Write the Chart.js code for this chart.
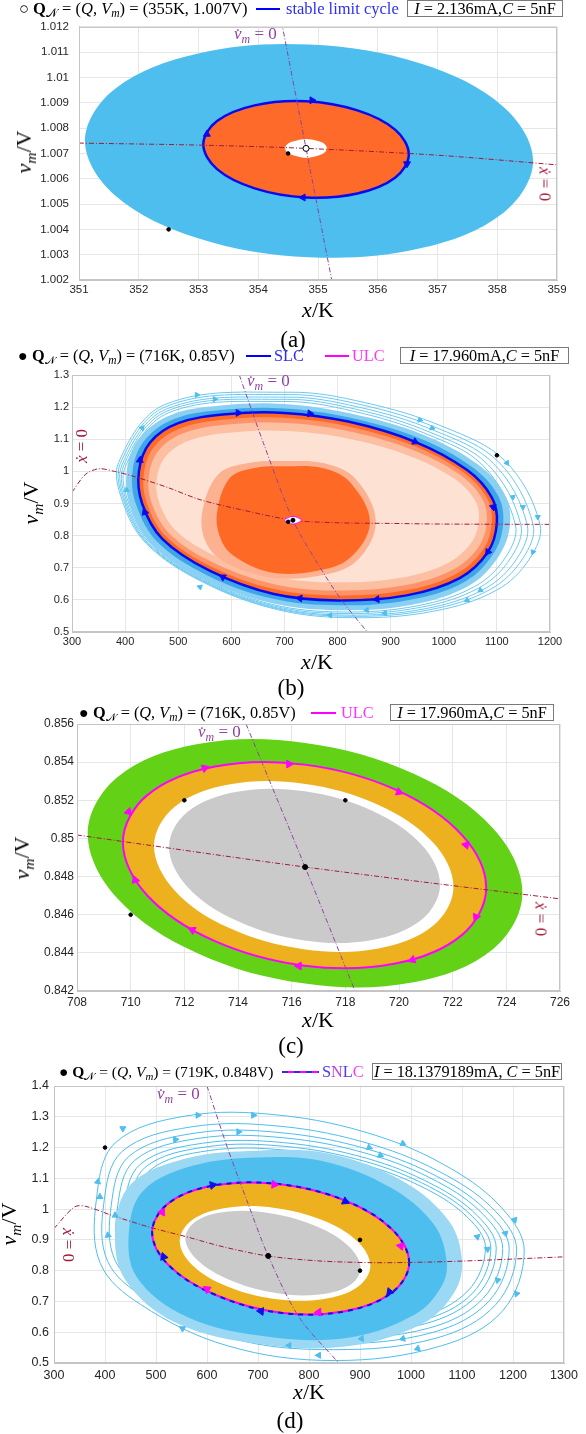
<!DOCTYPE html>
<html><head><meta charset="utf-8">
<script src="https://cdn.jsdelivr.net/npm/chart.js@4/dist/chart.umd.min.js"></script>
<style>
body{margin:0;width:586px;height:1434px;background:#fff;position:relative;overflow:hidden;font-family:"Liberation Serif","DejaVu Serif",serif;color:#000;}
canvas{position:absolute;left:0;}
.t{position:absolute;white-space:nowrap;line-height:1;}
.c{transform:translate(-50%,-50%);}
sub{font-size:0.7em;vertical-align:-0.3em;line-height:0;}
.leg{font-size:16.3px;line-height:17px;}
.box{border:1px solid #7a7a7a;height:17px;line-height:15px;box-sizing:border-box;text-align:center;background:#fff;}
.ln{position:absolute;height:2px;}
.ttl{font-size:22px;}
.pl{font-size:23px;}
.nl{font-size:17px;}
</style></head><body>
<canvas id="ca"></canvas><canvas id="cb"></canvas><canvas id="cc"></canvas><canvas id="cd"></canvas>

<!-- panel (a) texts -->
<div class="t leg" style="left:19px;top:0px;font-size:16.5px">○ <b>Q</b><sub>𝒩</sub> = (<i>Q</i>, <i>V</i><sub><i>m</i></sub>) = (355K, 1.007V)</div>
<div class="ln" style="left:256px;top:8px;width:24px;background:#0000ff"></div>
<div class="t leg" style="left:286px;top:0px;color:#2e2ef0;font-size:16.5px">stable limit cycle</div>
<div class="t leg box" style="left:407px;top:0px;width:156px"><i>I</i> = 2.136mA,<i>C</i> = 5nF</div>
<div class="t nl" style="left:234px;top:25px;color:#8e44a0"><i>v̇</i><sub><i>m</i></sub> = 0</div>
<div class="t nl c" style="left:545px;top:184px;color:#a31a3a;transform:translate(-50%,-50%) rotate(90deg)"><i>ẋ</i> = 0</div>
<div class="t ttl c" style="left:24px;top:152px;transform:translate(-50%,-50%) rotate(-90deg)"><i>v</i><sub><i>m</i></sub>/V</div>
<div class="t ttl c" style="left:318px;top:310px"><i>x</i>/K</div>
<div class="t pl c" style="left:293px;top:339px">(a)</div>

<!-- panel (b) texts -->
<div class="t leg" style="left:18px;top:347px">● <b>Q</b><sub>𝒩</sub> = (<i>Q</i>, <i>V</i><sub><i>m</i></sub>) = (716K, 0.85V)</div>
<div class="ln" style="left:246px;top:355px;width:25px;background:#0000ff"></div>
<div class="t leg" style="left:274px;top:347px;color:#2e2ef0">SLC</div>
<div class="ln" style="left:325px;top:355px;width:24px;background:#ff00ff"></div>
<div class="t leg" style="left:352px;top:347px;color:#ff33ff">ULC</div>
<div class="t leg box" style="left:400px;top:347px;width:169px"><i>I</i> = 17.960mA,<i>C</i> = 5nF</div>
<div class="t nl" style="left:247px;top:372px;color:#8e44a0"><i>v̇</i><sub><i>m</i></sub> = 0</div>
<div class="t nl c" style="left:81px;top:446px;color:#a31a3a;transform:translate(-50%,-50%) rotate(-90deg)"><i>ẋ</i> = 0</div>
<div class="t ttl c" style="left:31px;top:503px;transform:translate(-50%,-50%) rotate(-90deg)"><i>v</i><sub><i>m</i></sub>/V</div>
<div class="t ttl c" style="left:317px;top:662px"><i>x</i>/K</div>
<div class="t pl c" style="left:291px;top:687px">(b)</div>

<!-- panel (c) texts -->
<div class="t leg" style="left:79px;top:704px">● <b>Q</b><sub>𝒩</sub> = (<i>Q</i>, <i>V</i><sub><i>m</i></sub>) = (716K, 0.85V)</div>
<div class="ln" style="left:311px;top:712px;width:25px;background:#ff00ff"></div>
<div class="t leg" style="left:341px;top:704px;color:#ff33ff">ULC</div>
<div class="t leg box" style="left:390px;top:704px;width:164px"><i>I</i> = 17.960mA,<i>C</i> = 5nF</div>
<div class="t nl" style="left:198px;top:723px;color:#8e44a0"><i>v̇</i><sub><i>m</i></sub> = 0</div>
<div class="t nl c" style="left:541px;top:919px;color:#a31a3a;transform:translate(-50%,-50%) rotate(90deg)"><i>ẋ</i> = 0</div>
<div class="t ttl c" style="left:22px;top:858px;transform:translate(-50%,-50%) rotate(-90deg)"><i>v</i><sub><i>m</i></sub>/V</div>
<div class="t ttl c" style="left:318px;top:1020px"><i>x</i>/K</div>
<div class="t pl c" style="left:291px;top:1045px">(c)</div>

<!-- panel (d) texts -->
<div class="t leg" style="left:59px;top:1063px;font-size:15.5px">● <b>Q</b><sub>𝒩</sub> = (<i>Q</i>, <i>V</i><sub><i>m</i></sub>) = (719K, 0.848V)</div>
<div class="ln" style="left:282px;top:1071px;width:37px;background:repeating-linear-gradient(90deg,#2a2af0 0 6px,#ff00ff 6px 12px)"></div>
<div class="t leg" style="left:322px;top:1063px"><span style="color:#4a3af0">S</span><span style="color:#c040e0">N</span><span style="color:#4a3af0">L</span><span style="color:#ff33ff">C</span></div>
<div class="t leg box" style="left:372px;top:1063px;width:190px"><i>I</i> = 18.1379189mA, <i>C</i> = 5nF</div>
<div class="t nl" style="left:157px;top:1085px;color:#8e44a0"><i>v̇</i><sub><i>m</i></sub> = 0</div>
<div class="t nl c" style="left:68px;top:1245px;color:#a31a3a;transform:translate(-50%,-50%) rotate(90deg)"><i>ẋ</i> = 0</div>
<div class="t ttl c" style="left:9px;top:1224px;transform:translate(-50%,-50%) rotate(-90deg)"><i>v</i><sub><i>m</i></sub>/V</div>
<div class="t ttl c" style="left:309px;top:1392px"><i>x</i>/K</div>
<div class="t pl c" style="left:290px;top:1420px">(d)</div>

<script>
// ================= DATA =================
// ---- panel (a) ----
const aXTicks = [351,352,353,354,355,356,357,358,359];
const aXLabels = ['351','352','353','354','355','356','357','358','359'];
const aYTicks = [1.002,1.003,1.004,1.005,1.006,1.007,1.008,1.009,1.010,1.011,1.012];
const aYLabels = ['1.002','1.003','1.004','1.005','1.006','1.007','1.008','1.009','1.01','1.011','1.012'];
const aBlueRegion = [[358.60,1.0067],[358.10,1.00885],[356.73,1.01054],[354.85,1.0113],[352.98,1.01094],[351.60,1.00955],[351.10,1.0075],[351.60,1.00535],[352.98,1.00366],[354.85,1.0029],[356.73,1.00326],[358.10,1.00465]];
const aStableCycle = [[356.52,1.00696],[356.29,1.00794],[355.66,1.0087],[354.80,1.00906],[353.94,1.0089],[353.31,1.00828],[353.08,1.00736],[353.31,1.00638],[353.94,1.00562],[354.80,1.00526],[355.66,1.00542],[356.29,1.00604]];
const aHole = [[355.15,1.0072],[355.10,1.00739],[354.98,1.0075],[354.80,1.00757],[354.63,1.0075],[354.50,1.00739],[354.45,1.0072],[354.50,1.00702],[354.63,1.0069],[354.80,1.00683],[354.98,1.0069],[355.10,1.00702]];
const aXdotNull = [[351,1.00741],[353,1.00733],[354.8,1.0072],[357,1.00693],[359,1.00655]];
const aVdotNull = [[354.39,1.0122],[354.8,1.0072],[355.23,1.0020]];
const aArrowPts = [[353.14,1.00776],[354.9,1.0091],[356.49,1.00659],[354.75,1.00526]];
const aArrowRot = [0,90,180,270];
const aDots = [[354.5,1.007],[352.5,1.004]];
const aEquilibrium = [[354.8,1.0072]];

// ---- panel (b) ----
const bXTicks = [300,400,500,600,700,800,900,1000,1100,1200];
const bXLabels = ['300','400','500','600','700','800','900','1000','1100','1200'];
const bYTicks = [0.5,0.6,0.7,0.8,0.9,1.0,1.1,1.2,1.3];
const bYLabels = ['0.5','0.6','0.7','0.8','0.9','1','1.1','1.2','1.3'];
const bSLC = [[1100,0.84],[1090,0.92],[1044,1.004],[946,1.092],[820,1.155],[700,1.182],[590,1.178],[500,1.15],[447,1.09],[426,1.0],[432,0.90],[470,0.79],[560,0.69],[680,0.618],[800,0.598],[930,0.614],[1030,0.668],[1083,0.749]];
const bBandOuter = [[1125,0.84],[1114,0.93],[1064,1.022],[960,1.115],[825,1.18],[700,1.21],[580,1.205],[485,1.175],[425,1.10],[403,1.0],[410,0.89],[452,0.77],[548,0.665],[675,0.59],[800,0.568],[940,0.585],[1048,0.645],[1105,0.74]];
const bBandInner = [[1112,0.84],[1102,0.925],[1054,1.013],[953,1.104],[822,1.168],[700,1.196],[585,1.192],[492,1.163],[436,1.095],[414,1.0],[421,0.895],[461,0.78],[554,0.677],[677,0.604],[800,0.583],[935,0.6],[1039,0.656],[1094,0.745]];
const bTone1 = [[1090.6,0.8427],[1080.8,0.9184],[1036.1,0.9978],[940.9,1.0811],[818.4,1.1407],[701.8,1.1662],[594.8,1.1624],[507.4,1.136],[455.8,1.0792],[435.4,0.9941],[441.3,0.8995],[478.2,0.7954],[565.7,0.7008],[682.3,0.6327],[799,0.6138],[925.3,0.6289],[1022.5,0.68],[1074,0.7566]];
const bTone2 = [[1081.1,0.8454],[1071.7,0.9168],[1028.3,0.9917],[935.8,1.0702],[816.8,1.1264],[703.5,1.1505],[599.7,1.1469],[514.7,1.1219],[464.7,1.0684],[444.9,0.9881],[450.5,0.8989],[486.4,0.8008],[571.4,0.7116],[684.6,0.6474],[797.9,0.6295],[920.6,0.6438],[1015,0.692],[1065.1,0.7642]];
const bTone3 = [[1066.3,0.8497],[1057.3,0.9142],[1015.9,0.9819],[927.7,1.0528],[814.3,1.1036],[706.3,1.1254],[607.3,1.1221],[526.3,1.0996],[478.6,1.0512],[459.7,0.9787],[465.1,0.8981],[499.3,0.8094],[580.3,0.7288],[688.3,0.6708],[796.3,0.6546],[913.3,0.6675],[1003.3,0.7111],[1051,0.7764]];
const bHalo = [[872,0.842],[835,0.975],[775,1.025],[700,1.032],[630,1.025],[575,0.99],[545,0.87],[552,0.78],[585,0.72],[673,0.67],[765,0.675],[835,0.72]];
const bCore = [[861,0.842],[823,0.967],[773,1.01],[700,1.016],[641,1.01],[597,0.979],[573,0.87],[580,0.79],[603,0.739],[673,0.686],[760,0.69],[823,0.73]];
const bOrbit1 = [[1134.8,0.8345],[1073.8,1.0182],[967,1.1167],[829.6,1.1873],[698.8,1.2175],[480.8,1.1817],[400.2,1.0137],[406.7,0.9017],[448.1,0.7785],[546.2,0.6665],[677,0.5859],[807.8,0.5623],[949.5,0.5814],[1058.5,0.6419],[1116.3,0.7326]];
const bOrbit2 = [[1145,0.8345],[1082.9,1.0215],[974.1,1.1218],[834.3,1.1936],[701.1,1.2244],[479.1,1.1879],[397,1.0169],[403.6,0.9029],[445.8,0.7775],[545.7,0.6635],[678.9,0.5814],[812.1,0.5575],[956.4,0.5769],[1067.4,0.6384],[1126.2,0.7308]];
const bOrbit3 = [[1157,0.8345],[1093.6,1.0247],[982.7,1.1268],[840,1.1999],[704.2,1.2312],[477.8,1.1941],[394,1.0201],[400.8,0.9041],[443.8,0.7765],[545.7,0.6605],[681.5,0.577],[817.4,0.5526],[964.5,0.5723],[1077.7,0.635],[1137.7,0.7289]];
const bOrbit4 = [[1168.1,0.8355],[1103.5,1.029],[990.5,1.1329],[845.2,1.2072],[706.9,1.2391],[476.3,1.2013],[390.9,1.0243],[397.9,0.9063],[441.7,0.7765],[545.5,0.6585],[683.8,0.5735],[822.2,0.5488],[972.1,0.5688],[1087.4,0.6325],[1148.5,0.7281]];
const bOrbit5 = [[1181.1,0.836],[1115.2,1.0328],[999.9,1.1384],[851.6,1.214],[710.3,1.2464],[474.9,1.208],[387.9,1.028],[394.9,0.908],[439.6,0.776],[545.6,0.656],[686.8,0.5696],[828,0.5444],[981.1,0.5648],[1098.8,0.6296],[1161.1,0.7268]];
const bULC = [[732,0.848],[724,0.857],[716,0.86],[708,0.857],[700,0.848],[708,0.839],[716,0.836],[724,0.839]];
const bXdotNull = [[300,0.935],[325,0.99],[350,1.008],[380,1.0],[415,0.985],[480,0.95],[541,0.912],[620,0.88],[716,0.848],[800,0.84],[900,0.838],[1000,0.836],[1200,0.835]];
const bVdotNull = [[615,1.3],[660,1.09],[716,0.848],[760,0.72],[805,0.605],[856,0.5]];
const bSLCArrowPts = [[613,1.182],[748,1.18],[946,1.092],[1093,0.889],[1083,0.749],[874,0.602],[729,0.605],[584,0.671],[437,0.873],[428,1.035]];
const bSLCArrowRot = [90,95,115,170,215,265,275,300,340,5];
const bOrbitArrowPts = [[535,1.238],[569,1.225],[432,1.135],[403,0.942],[541,0.64],[955,1.16],[978,1.135],[1119,1.026],[1130,0.92],[1149,0.889],[1177,0.858],[1168,0.749],[1044,0.599],[1069,0.63],[786,0.552],[855,0.568],[889,0.559]];
const bOrbitArrowRot = [90,90,40,355,290,105,110,145,170,175,180,200,240,235,270,265,265];
const bDots = [[1100,1.05],[707,0.843]];
const bEquilibrium = [[716,0.848]];

// ---- panel (c) ----
const cXTicks = [708,710,712,714,716,718,720,722,724,726];
const cXLabels = ['708','710','712','714','716','718','720','722','724','726'];
const cYTicks = [0.842,0.844,0.846,0.848,0.850,0.852,0.854,0.856];
const cYLabels = ['0.842','0.844','0.846','0.848','0.85','0.852','0.854','0.856'];
const cGreen = [[724.6,0.84715],[723.51,0.85052],[720.55,0.85339],[716.5,0.85501],[712.45,0.85494],[709.49,0.8532],[708.4,0.85025],[709.49,0.84688],[712.45,0.84401],[716.5,0.84239],[720.55,0.84246],[723.51,0.8442]];
const cULC = [[723.25,0.8474],[722.34,0.85019],[719.87,0.85256],[716.48,0.85387],[713.10,0.85376],[710.62,0.85227],[709.71,0.8498],[710.62,0.84701],[713.10,0.84464],[716.48,0.84333],[719.87,0.84344],[722.34,0.84493]];
const cWhite = [[722.03,0.84745],[721.28,0.84977],[719.24,0.85175],[716.45,0.85287],[713.66,0.85283],[711.62,0.85164],[710.87,0.84961],[711.62,0.8473],[713.66,0.84531],[716.45,0.84419],[719.24,0.84423],[721.28,0.84543]];
const cGray = [[721.53,0.84756],[720.85,0.84965],[719.0,0.85145],[716.48,0.85247],[713.96,0.85245],[712.11,0.85138],[711.43,0.84956],[712.11,0.84747],[713.96,0.84568],[716.48,0.84465],[719.0,0.84468],[720.85,0.84575]];
const cXdotNull = [[708,0.85018],[716.5,0.8485],[726,0.84683]];
const cVdotNull = [[714.3,0.856],[716.5,0.8485],[718.36,0.842]];
const cArrowPts = [[712.76,0.85369],[715.9,0.8539],[720.0,0.85243],[722.5,0.84966],[722.87,0.84588],[720.5,0.84363],[716.27,0.84331],[712.3,0.8452],[710.17,0.84782],[709.92,0.85139]];
const cArrowRot = [70,90,110,160,205,250,270,295,340,15];
const cDots = [[712,0.852],[718,0.852],[710,0.846]];
const cEquilibrium = [[716.5,0.8485]];

// ---- panel (d) ----
const dXTicks = [300,400,500,600,700,800,900,1000,1100,1200,1300];
const dXLabels = ['300','400','500','600','700','800','900','1000','1100','1200','1300'];
const dYTicks = [0.5,0.6,0.7,0.8,0.9,1.0,1.1,1.2,1.3,1.4];
const dYLabels = ['0.5','0.6','0.7','0.8','0.9','1','1.1','1.2','1.3','1.4'];
const dOrbit1 = [[1222,0.866],[1180,1.00],[1080,1.13],[930,1.24],[743,1.305],[560,1.303],[420,1.215],[383,1.03],[391,0.823],[470,0.69],[640,0.556],[850,0.508],[1060,0.556],[1180,0.67]];
const dOrbit2 = [[1207,0.869],[1166.7,0.991],[1070.2,1.109],[925.5,1.209],[745,1.269],[568.4,1.267],[433.3,1.187],[397.6,1.018],[405.3,0.830],[481.5,0.709],[645.6,0.5815],[848.3,0.5433],[1050.9,0.5815],[1166.7,0.6907]];
const dOrbit3 = [[1192.5,0.871],[1153.4,0.986],[1060.4,1.098],[920.9,1.192],[747,1.248],[576.8,1.247],[446.6,1.171],[412.2,1.012],[419.6,0.834],[493.1,0.719],[651.2,0.599],[846.5,0.563],[1041.8,0.599],[1153.4,0.702]];
const dOrbit4 = [[1179.8,0.872],[1142,0.982],[1052,1.089],[917,1.179],[748.7,1.232],[584,1.230],[458,1.158],[424.7,1.007],[431.9,0.837],[503,0.728],[656,0.613],[845,0.579],[1034,0.613],[1142,0.711]];
const dOrbit5 = [[1167.1,0.873],[1130.6,0.978],[1043.6,1.079],[913.1,1.165],[750.4,1.216],[591.2,1.214],[469.4,1.146],[437.2,1.001],[444.2,0.840],[512.9,0.736],[660.8,0.627],[843.5,0.594],[1026.2,0.627],[1130.6,0.721]];
const dOrbit6 = [[1156.6,0.8745],[1121.1,0.975],[1036.6,1.0725],[909.9,1.155],[751.8,1.204],[597.2,1.202],[478.9,1.136],[447.6,0.9975],[454.4,0.842],[521.2,0.7425],[664.8,0.6375],[842.3,0.606],[1019.7,0.6375],[1121.1,0.7275]];
const dOrbit7 = [[1146,0.8755],[1111.6,0.972],[1029.6,1.0656],[906.6,1.1448],[753.3,1.1916],[603.2,1.19],[488.4,1.1268],[458.1,0.9936],[464.6,0.8446],[529.4,0.7488],[668.8,0.648],[841,0.6178],[1013.2,0.648],[1111.6,0.7344]];
const dBlueFade = [[1100,0.83],[1075,0.96],[985,1.09],[840,1.18],[700,1.19],[560,1.165],[450,1.08],[420,0.93],[440,0.77],[540,0.63],[710,0.56],[880,0.555],[1025,0.63],[1085,0.73]];
const dBlueSolid = [[1070,0.83],[1045,0.95],[960,1.07],[830,1.155],[700,1.168],[570,1.14],[475,1.06],[447,0.93],[462,0.78],[560,0.65],[720,0.585],[880,0.583],[1010,0.66],[1060,0.75]];
const dSNLC = [[996.4,0.825],[962.6,0.9345],[870.4,1.028],[744.4,1.0805],[618.4,1.078],[526.2,1.0211],[492.4,0.925],[526.2,0.8155],[618.4,0.72],[744.4,0.663],[870.4,0.668],[962.6,0.7289]];
const dWhite = [[920.3,0.8153],[895.3,0.8948],[826.9,0.9637],[733.4,1.0039],[639.9,1.0045],[571.5,0.9652],[546.5,0.8967],[571.5,0.8172],[639.9,0.7483],[733.4,0.7081],[826.9,0.7075],[895.3,0.7468]];
const dGray = [[901.3,0.8081],[878.3,0.8787],[815.4,0.9434],[729.4,0.985],[643.4,0.9924],[580.5,0.9633],[557.5,0.9059],[580.5,0.8353],[643.4,0.7706],[729.4,0.729],[815.4,0.7216],[878.3,0.7507]];
const dXdotNull = [[300,0.937],[340,1.007],[362,1.009],[413,0.98],[486,0.942],[560,0.91],[633,0.877],[718,0.848],[816,0.832],[925,0.826],[1035,0.828],[1145,0.834],[1300,0.845]];
const dVdotNull = [[600,1.4],[640,1.2],[680,1.02],[720,0.848],[780,0.65],[858,0.5]];
const dBlueArrowPts = [[611,1.078],[871,1.025],[958,0.731],[706,0.668],[515,0.845]];
const dBlueArrowRot = [80,115,220,275,340];
const dMagArrowPts = [[732,1.08],[980,0.88],[819,0.665],[600,0.74],[512,0.99]];
const dMagArrowRot = [95,160,265,305,30];
const dOrbitArrowPts = [[435,1.262],[582,1.305],[691,1.305],[662,1.251],[538,1.226],[984,1.213],[918,1.2],[940,1.175],[1203,0.965],[1185,0.921],[1130,0.91],[1150,0.87],[1170,0.769],[1207,0.725],[1013,0.547],[819,0.525],[761,0.557],[552,0.612],[984,0.579],[903,0.579],[386,1.089],[390,1.04],[406,0.915],[420,0.98]];
const dOrbitArrowRot = [60,90,90,90,85,115,110,112,160,165,170,175,195,200,250,270,270,300,255,265,10,0,350,355];
const dDots = [[400,1.2],[900,0.9],[900,0.8]];
const dEquilibrium = [[720,0.848]];

// ================= HELPERS =================
const pts = a => a.map(p => ({x:p[0], y:p[1]}));
const T = 0.36;
const CLEAR = 'rgba(0,0,0,0)';
const fillShape = (a, col) => ({closedLoop:true, data: pts(a), showLine:true, fill:'shape', backgroundColor:col, borderColor:CLEAR, borderWidth:1, pointRadius:0, tension:T});
const strokeShape = (a, col, w, dash) => ({closedLoop:true, data: pts(a), showLine:true, fill:false, backgroundColor:CLEAR, borderColor:col, borderWidth:w, borderDash:dash||[], pointRadius:0, tension:T});
const curve = (a, col, w, dash) => ({data: pts(a), showLine:true, fill:false, borderColor:col, borderWidth:w, borderDash:dash||[], pointRadius:0, tension:0.3});
const arrows = (a, rot, col, r) => ({data: pts(a), showLine:false, fill:false, pointStyle:'triangle', pointRadius:r, pointRotation:rot, pointBackgroundColor:col, pointBorderColor:col, pointBorderWidth:1});
const dots = (a, col, r, fc) => ({data: pts(a), showLine:false, fill:false, pointStyle:'circle', pointRadius:r, pointBackgroundColor:fc||col, pointBorderColor:col, pointBorderWidth:1});
const DASHDOT = [5,2,1,2];
const XNULL = '#a31a3a', VNULL = '#8e44a0';
const ORB = '#4dbeee';

// close the line of "closedLoop" datasets into a smooth loop
const loopPlugin = {id:'closeLoops', afterDatasetUpdate(chart, args){
  const ds = chart.data.datasets[args.index]; const line = args.meta && args.meta.dataset;
  if (ds && ds.closedLoop && line) { line._loop = true; line._fullLoop = true; line._pointsUpdated = false; delete line._segments; delete line._path; }
}};
const boxPlugin = {id:'axbox', afterDatasetsDraw(c){const a=c.chartArea, x=c.ctx; x.save(); x.strokeStyle='#c4c4c4'; x.lineWidth=1; x.strokeRect(a.left+0.5,a.top+0.5,a.right-a.left-1,a.bottom-a.top-1); x.restore();}};

function makeChart(id, area, xr, yr, xT, xL, yT, yL, ypad, xpad, fsize, datasets) {
  const top = area.top - 15, height = area.bottom - area.top + 35;
  const cv = document.getElementById(id);
  cv.width = 586; cv.height = height; cv.style.top = top + 'px';
  cv.style.width = '586px'; cv.style.height = height + 'px';
  datasets.forEach((d, i) => { d.order = -i; });
  const tf = {family:'"Liberation Sans", Arial, sans-serif', size:fsize};
  return new Chart(cv, {
    type:'scatter',
    data:{datasets},
    options:{
      responsive:false, animation:false, devicePixelRatio:1, events:[],
      layout:{padding:{left:0, top:15, right:586-area.right, bottom:0}},
      plugins:{legend:{display:false}, tooltip:{enabled:false}},
      scales:{
        x:{type:'linear', position:'bottom', min:xr[0], max:xr[1],
          afterBuildTicks:s=>{s.ticks = xT.map(v=>({value:v}));},
          afterFit:s=>{s.height = 20;},
          grid:{color:'#e6e6e6', drawTicks:false}, border:{color:'#c4c4c4'},
          ticks:{autoSkip:false, maxRotation:0, padding:xpad, color:'#262626', font:tf, callback:(v,i)=>xL[i]}},
        y:{type:'linear', position:'left', min:yr[0], max:yr[1],
          afterBuildTicks:s=>{s.ticks = yT.map(v=>({value:v}));},
          afterFit:s=>{s.width = area.left;},
          grid:{color:'#e6e6e6', drawTicks:false}, border:{color:'#c4c4c4'},
          ticks:{autoSkip:false, padding:ypad, color:'#262626', font:tf, callback:(v,i)=>yL[i]}}
      }
    },
    plugins:[loopPlugin, boxPlugin]
  });
}

// ================= CHARTS =================
makeChart('ca', {left:79, right:557, top:25, bottom:280}, [351,359], [1.002,1.012], aXTicks, aXLabels, aYTicks, aYLabels, 10, 3, 11.5, [
  fillShape(aBlueRegion, '#4dbeee'),
  fillShape(aStableCycle, '#fe6a29'),
  strokeShape(aStableCycle, '#0a0af0', 2.5),
  fillShape(aHole, '#ffffff'),
  curve(aXdotNull, XNULL, 1, DASHDOT),
  curve(aVdotNull, VNULL, 1, DASHDOT),
  arrows(aArrowPts, aArrowRot, '#0a0af0', 4),
  dots(aDots, '#000', 1.8),
  dots(aEquilibrium, '#000', 3, '#fff')
]);

makeChart('cb', {left:72, right:550, top:375, bottom:632}, [300,1200], [0.5,1.3], bXTicks, bXLabels, bYTicks, bYLabels, 3, 3, 11, [
  strokeShape(bOrbit5, '#6cc8f0', 1),
  strokeShape(bOrbit4, '#6cc8f0', 1),
  strokeShape(bOrbit3, '#6cc8f0', 1),
  strokeShape(bOrbit2, '#6cc8f0', 1),
  strokeShape(bOrbit1, '#6cc8f0', 1),
  fillShape(bBandOuter, '#8ad0f2'),
  fillShape(bBandInner, '#3fa5e8'),
  fillShape(bSLC, '#fe6a26'),
  fillShape(bTone1, '#fd9469'),
  fillShape(bTone2, '#fdbfa2'),
  fillShape(bTone3, '#fde1d3'),
  fillShape(bHalo, '#fcb191'),
  fillShape(bCore, '#fe6a26'),
  strokeShape(bSLC, '#0a0af0', 2.5),
  curve(bXdotNull, XNULL, 1, DASHDOT),
  curve(bVdotNull, VNULL, 1, DASHDOT),
  fillShape(bULC, '#ffffff'),
  strokeShape(bULC, '#ff00ff', 1),
  arrows(bOrbitArrowPts, bOrbitArrowRot, '#4dbeee', 3),
  arrows(bSLCArrowPts, bSLCArrowRot, '#0a0af0', 4),
  dots(bDots, '#000', 1.8),
  dots(bEquilibrium, '#000', 2)
]);

makeChart('cc', {left:77, right:560, top:724, bottom:991}, [708,726], [0.842,0.856], cXTicks, cXLabels, cYTicks, cYLabels, 3, 4, 12, [
  fillShape(cGreen, '#63d116'),
  fillShape(cULC, '#edb120'),
  fillShape(cWhite, '#ffffff'),
  fillShape(cGray, '#cacaca'),
  strokeShape(cULC, '#ff00ff', 2),
  curve(cXdotNull, XNULL, 1, DASHDOT),
  curve(cVdotNull, VNULL, 1, DASHDOT),
  arrows(cArrowPts, cArrowRot, '#ff00ff', 4.5),
  dots(cDots, '#000', 1.8),
  dots(cEquilibrium, '#000', 2.5)
]);

makeChart('cd', {left:54, right:564, top:1086, bottom:1363}, [300,1300], [0.5,1.4], dXTicks, dXLabels, dYTicks, dYLabels, 5, 5, 12.5, [
  strokeShape(dOrbit1, ORB, 1),
  strokeShape(dOrbit2, ORB, 1),
  strokeShape(dOrbit3, ORB, 1),
  strokeShape(dOrbit4, ORB, 1),
  strokeShape(dOrbit5, ORB, 1),
  strokeShape(dOrbit6, ORB, 1),
  strokeShape(dOrbit7, ORB, 1),
  fillShape(dBlueFade, '#9ad8f3'),
  fillShape(dBlueSolid, '#4dbeee'),
  fillShape(dSNLC, '#edb120'),
  fillShape(dWhite, '#ffffff'),
  fillShape(dGray, '#cacaca'),
  strokeShape(dSNLC, '#ff00ff', 2),
  strokeShape(dSNLC, '#1010e6', 2, [5,5]),
  curve(dXdotNull, XNULL, 1, DASHDOT),
  curve(dVdotNull, VNULL, 1, DASHDOT),
  arrows(dOrbitArrowPts, dOrbitArrowRot, '#4dbeee', 3.5),
  arrows(dBlueArrowPts, dBlueArrowRot, '#1010e6', 4.5),
  arrows(dMagArrowPts, dMagArrowRot, '#ff00ff', 4.5),
  dots(dDots, '#000', 1.8),
  dots(dEquilibrium, '#000', 2.5)
]);
</script>
</body></html>
